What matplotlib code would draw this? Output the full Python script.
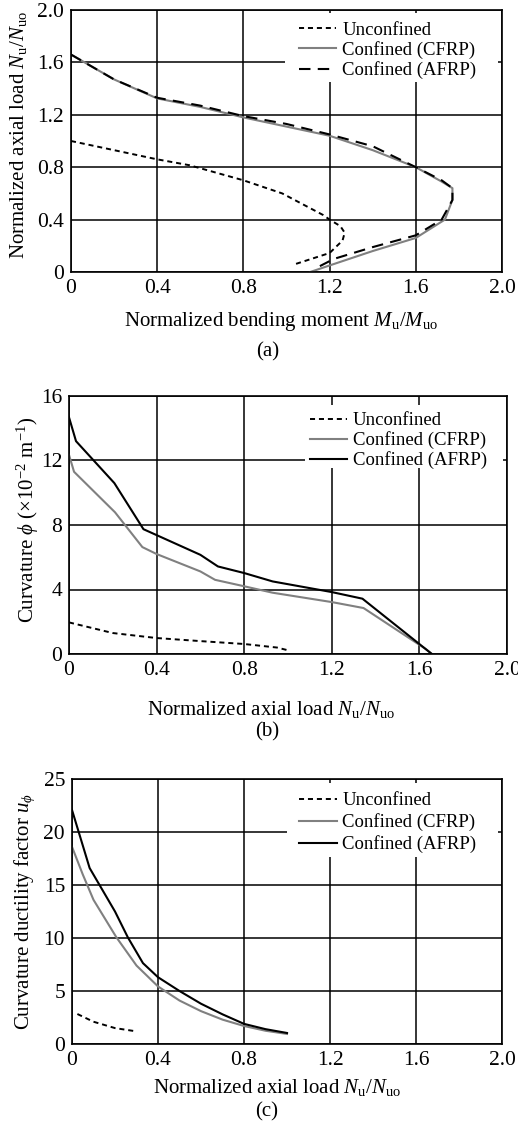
import numpy as np
import matplotlib
matplotlib.use("Agg")
import matplotlib.pyplot as plt
from matplotlib.patches import Rectangle

plt.rcParams['font.family'] = ['Liberation Serif', 'DejaVu Serif']
plt.rcParams['mathtext.fontset'] = 'custom'
plt.rcParams['mathtext.rm'] = 'Liberation Serif'
plt.rcParams['mathtext.it'] = 'Liberation Serif:italic'
plt.rcParams['font.size'] = 13.5

# (a) interaction diagrams: (M/Mo, N/No)
a_unc_m = [0.0, 0.4, 0.55, 0.8, 0.98, 1.095, 1.17, 1.2, 1.25, 1.27, 1.26, 1.2, 1.04]
a_unc_n = [1.0, 0.86, 0.815, 0.70, 0.60, 0.50, 0.435, 0.40, 0.35, 0.30, 0.24, 0.145, 0.06]
a_cfrp_m = [0.0, 0.2, 0.4, 0.6, 0.8, 1.0, 1.2, 1.4, 1.6, 1.72, 1.77, 1.77, 1.735, 1.6, 1.4, 1.2, 1.11]
a_cfrp_n = [1.66, 1.47, 1.325, 1.26, 1.18, 1.11, 1.04, 0.93, 0.80, 0.69, 0.64, 0.55, 0.40, 0.26, 0.16, 0.05, 0.0]
a_afrp_m = [0.0, 0.2, 0.4, 0.6, 0.8, 1.0, 1.2, 1.4, 1.6, 1.72, 1.77, 1.77, 1.72, 1.6, 1.4, 1.22, 1.155]
a_afrp_n = [1.66, 1.47, 1.33, 1.27, 1.19, 1.13, 1.05, 0.96, 0.80, 0.70, 0.64, 0.55, 0.40, 0.28, 0.19, 0.10, 0.045]

# (b) curvature vs axial load
b_unc_n = [0.0, 0.2, 0.4, 0.6, 0.8, 0.95, 1.0]
b_unc_c = [1.96, 1.3, 0.99, 0.80, 0.62, 0.40, 0.23]
b_cfrp_n = [0.0, 0.023, 0.21, 0.335, 0.4, 0.6, 0.667, 0.8, 0.93, 1.2, 1.345, 1.63, 1.657]
b_cfrp_c = [12.35, 11.3, 8.79, 6.63, 6.2, 5.12, 4.6, 4.2, 3.8, 3.22, 2.85, 0.3, 0.0]
b_afrp_n = [0.0, 0.032, 0.207, 0.34, 0.6, 0.68, 0.8, 0.93, 1.2, 1.34, 1.657]
b_afrp_c = [14.68, 13.2, 10.6, 7.74, 6.15, 5.43, 5.02, 4.5, 3.84, 3.43, 0.0]

# (c) curvature ductility factor vs axial load
c_unc_n = [0.025, 0.1, 0.2, 0.3]
c_unc_u = [2.83, 2.1, 1.5, 1.19]
c_cfrp_n = [0.0, 0.05, 0.1, 0.206, 0.3, 0.4, 0.5, 0.6, 0.7, 0.8, 0.9, 1.0]
c_cfrp_u = [18.6, 16.0, 13.6, 10.08, 7.4, 5.43, 4.1, 3.1, 2.3, 1.7, 1.25, 0.95]
c_afrp_n = [0.0, 0.082, 0.2, 0.26, 0.33, 0.4, 0.5, 0.6, 0.7, 0.8, 0.9, 1.0]
c_afrp_u = [22.08, 16.6, 12.5, 10.05, 7.63, 6.3, 5.0, 3.8, 2.8, 1.9, 1.4, 1.04]

W, H = 518, 1135
fig = plt.figure(figsize=(W / 100, H / 100), dpi=100)


def px(x, y):
    return x / W, 1 - y / H


def make_axes(l, r, t, b):
    ax = fig.add_axes([l / W, 1 - b / H, (r - l) / W, (b - t) / H])
    ax.grid(True, color='black', linewidth=1.1)
    ax.set_axisbelow(True)
    ax.tick_params(length=0, pad=5, labelsize=15.5)
    for s in ax.spines.values():
        s.set_linewidth(1.2)
    return ax


def legend_box(ax, box, hx, ty, sp):
    # white box hiding grid behind the legend
    x0, x1, y0, y1 = box
    ax.add_patch(Rectangle((x0, y0), x1 - x0, y1 - y0, transform=ax.transAxes,
                           facecolor='white', edgecolor='none', zorder=1))
    ax.legend(loc='upper left', bbox_to_anchor=(hx, ty), frameon=False,
              borderpad=0, borderaxespad=0, handlelength=2.0,
              handletextpad=0.3, labelspacing=sp, fontsize=13.5)


ticks = [0, 0.4, 0.8, 1.2, 1.6, 2.0]
tick_lbl = ['0', '0.4', '0.8', '1.2', '1.6', '2.0']
unc_ls = (0, (2.6, 2.0))

# Panel (a)
ax = make_axes(71, 502, 10, 272)
ax.plot(a_unc_m, a_unc_n, color='black', lw=1.4, ls=unc_ls, label='Unconfined', zorder=2)
ax.plot(a_cfrp_m, a_cfrp_n, color='#808080', lw=1.5, label='Confined (CFRP)', zorder=2)
ax.plot(a_afrp_m, a_afrp_n, color='black', lw=1.5, ls=(0, (5.5, 3.5)), label='Confined (AFRP)', zorder=3)
ax.set_xlim(0, 2.0)
ax.set_ylim(0, 2.0)
ax.set_xticks(ticks, tick_lbl)
ax.set_yticks(ticks, tick_lbl)
legend_box(ax, (0.497, 0.991, 0.725, 0.989), 0.529, 0.955, 0.12)

# Panel (b)
ax = make_axes(69, 507, 396, 654)
ax.plot(b_unc_n, b_unc_c, color='black', lw=1.4, ls=unc_ls, label='Unconfined', zorder=2)
ax.plot(b_cfrp_n, b_cfrp_c, color='#808080', lw=1.5, label='Confined (CFRP)', zorder=2)
ax.plot(b_afrp_n, b_afrp_c, color='black', lw=1.5, label='Confined (AFRP)', zorder=3)
ax.set_xlim(0, 2.0)
ax.set_ylim(0, 16)
ax.set_xticks(ticks, tick_lbl)
ax.set_yticks([0, 4, 8, 12, 16])
legend_box(ax, (0.539, 0.991, 0.721, 0.965), 0.550, 0.938, 0.12)

# Panel (c)
ax = make_axes(72, 502, 779, 1044)
ax.plot(c_unc_n, c_unc_u, color='black', lw=1.4, ls=unc_ls, label='Unconfined', zorder=2)
ax.plot(c_cfrp_n, c_cfrp_u, color='#808080', lw=1.5, label='Confined (CFRP)', zorder=2)
ax.plot(c_afrp_n, c_afrp_u, color='black', lw=1.5, label='Confined (AFRP)', zorder=3)
ax.set_xlim(0, 2.0)
ax.set_ylim(0, 25)
ax.set_xticks(ticks, tick_lbl)
ax.set_yticks([0, 5, 10, 15, 20, 25])
legend_box(ax, (0.50, 0.991, 0.706, 0.985), 0.528, 0.950, 0.22)

# axis labels and captions
fs = 15
fig.text(*px(19, 135), r'Normalized axial load $N_\mathrm{u}/N_\mathrm{uo}$',
         rotation=90, ha='center', va='center', fontsize=fs)
fig.text(*px(281, 322), r'Normalized bending moment $M_\mathrm{u}/M_\mathrm{uo}$',
         ha='center', va='center', fontsize=fs)
fig.text(*px(268, 352), '(a)', ha='center', va='center', fontsize=fs)

fig.text(*px(28, 520), r'Curvature $\phi$ ($\times$10$^{-2}$ m$^{-1}$)',
         rotation=90, ha='center', va='center', fontsize=fs)
fig.text(*px(271, 710), r'Normalized axial load $N_\mathrm{u}/N_\mathrm{uo}$',
         ha='center', va='center', fontsize=fs)
fig.text(*px(267, 732), '(b)', ha='center', va='center', fontsize=fs)

fig.text(*px(25, 911), r'Curvature ductility factor $u_\phi$',
         rotation=90, ha='center', va='center', fontsize=fs)
fig.text(*px(277, 1088), r'Normalized axial load $N_\mathrm{u}/N_\mathrm{uo}$',
         ha='center', va='center', fontsize=fs)
fig.text(*px(267, 1112), '(c)', ha='center', va='center', fontsize=fs)

fig.savefig('out.png', dpi=100)
